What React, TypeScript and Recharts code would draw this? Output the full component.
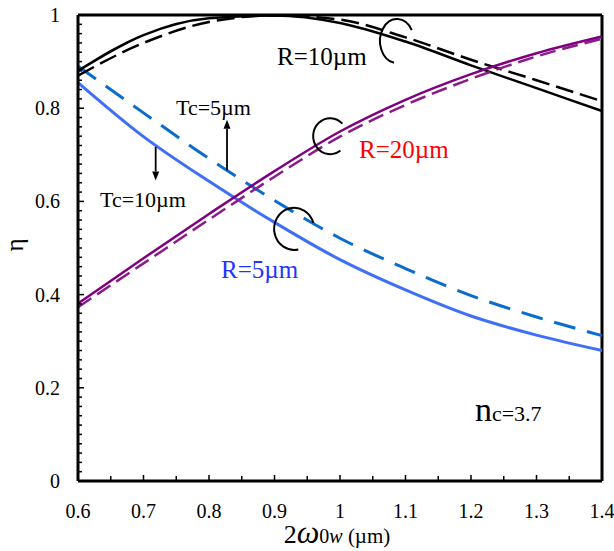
import { LineChart, Line, XAxis, YAxis, ReferenceLine, ReferenceDot, Label } from 'recharts'

// beam width 2ω0w (µm)
const WIDTHS = [0.6, 0.7, 0.8, 0.9, 1.0, 1.1, 1.2, 1.3, 1.4]

// efficiency η, solid = Tc 10µm, dashed = Tc 5µm
const R10_TC10 = [0.880, 0.957, 0.993, 0.999, 0.983, 0.943, 0.892, 0.843, 0.794]
const R10_TC5  = [0.870, 0.940, 0.985, 0.999, 0.990, 0.952, 0.904, 0.860, 0.815]
const R5_TC10  = [0.855, 0.739, 0.643, 0.555, 0.475, 0.410, 0.354, 0.313, 0.280]
const R5_TC5   = [0.890, 0.790, 0.692, 0.602, 0.521, 0.456, 0.398, 0.352, 0.312]
const R20_TC10 = [0.381, 0.478, 0.573, 0.665, 0.750, 0.818, 0.873, 0.918, 0.954]
const R20_TC5  = [0.373, 0.467, 0.561, 0.653, 0.739, 0.807, 0.863, 0.911, 0.949]

const X_MAJOR = [0.6, 0.7, 0.8, 0.9, 1.0, 1.1, 1.2, 1.3, 1.4]
const X_LABELS = ['0.6', '0.7', '0.8', '0.9', '1', '1.1', '1.2', '1.3', '1.4']
const Y_MAJOR = [0, 0.2, 0.4, 0.6, 0.8, 1]
const Y_LABELS = ['0', '0.2', '0.4', '0.6', '0.8', '1']

const data = WIDTHS.map((w, i) => ({
  w,
  r10a: R10_TC10[i], r10b: R10_TC5[i],
  r5a: R5_TC10[i], r5b: R5_TC5[i],
  r20a: R20_TC10[i], r20b: R20_TC5[i],
}))

// minor ticks: every 0.05 on x, every 0.02 on y
const X_TICKS = X_MAJOR.flatMap((v, i) => (i < X_MAJOR.length - 1 ? [v, (v + X_MAJOR[i + 1]) / 2] : [v]))
const Y_TICKS = Y_MAJOR.flatMap((v, i) =>
  i < Y_MAJOR.length - 1 ? Array.from({ length: 10 }, (_, k) => v + ((Y_MAJOR[i + 1] - v) * k) / 10) : [v])

const FONT = '"Liberation Serif", "Times New Roman", serif'
const X_GAP = 22
const Y_GAP = 18

const near = (a: number, b: number) => Math.abs(a - b) < 1e-6

function XTick(props: any) {
  const { x, y, payload } = props
  const i = X_MAJOR.findIndex(m => near(m, payload.value))
  const ay = y - X_GAP
  return (
    <g>
      <line x1={x} x2={x} y1={ay} y2={ay - (i >= 0 ? 6 : 5)} stroke="#000" strokeWidth={1.5} />
      {i >= 0 && (
        <text x={x} y={ay + 37} textAnchor="middle" fontSize={20} fontFamily={FONT} fill="#000">
          {X_LABELS[i]}
        </text>
      )}
    </g>
  )
}

function YTick(props: any) {
  const { x, y, payload } = props
  const i = Y_MAJOR.findIndex(m => near(m, payload.value))
  const ax = x + Y_GAP
  return (
    <g>
      <line x1={ax} x2={ax + (i >= 0 ? 6 : 4)} y1={y} y2={y} stroke="#000" strokeWidth={1.5} />
      {i >= 0 && (
        <text x={x} y={y} dy="0.35em" textAnchor="end" fontSize={20} fontFamily={FONT} fill="#000">
          {Y_LABELS[i]}
        </text>
      )}
    </g>
  )
}

function XTitle(props: any) {
  const { x, y, width } = props.viewBox
  return (
    <text x={x + width / 2 - 3} y={y + 62} textAnchor="middle" fontFamily={FONT} fill="#000">
      <tspan fontSize={26}>2</tspan>
      <tspan fontSize={32} fontStyle="italic">ω</tspan>
      <tspan fontSize={20}>0</tspan>
      <tspan fontSize={20} fontStyle="italic">w</tspan>
      <tspan fontSize={21}>{'\u00a0(µm)'}</tspan>
    </text>
  )
}

function YTitle(props: any) {
  const { y, height } = props.viewBox
  const cy = y + height / 2 - 3
  return (
    <text transform={`translate(23, ${cy}) rotate(-90)`} textAnchor="middle" fontSize={25} fontFamily={FONT} fill="#000">
      η
    </text>
  )
}

// "C" shaped bracket marking a pair of curves
const arc = (rx: number, ry: number, a0: number, a1: number) => (p: any) => {
  const r0 = (a0 * Math.PI) / 180
  const r1 = (a1 * Math.PI) / 180
  const sx = p.cx + rx * Math.cos(r0)
  const sy = p.cy + ry * Math.sin(r0)
  const ex = p.cx + rx * Math.cos(r1)
  const ey = p.cy + ry * Math.sin(r1)
  return <path d={`M${sx},${sy} A${rx},${ry} 0 1 0 ${ex},${ey}`} fill="none" stroke="#000" strokeWidth={2} />
}

const label = (content: any, size: number, color = '#000') => (p: any) => (
  <text x={p.cx} y={p.cy} fontSize={size} fontFamily={FONT} fill={color}>{content}</text>
)

const Arrow = (p: any) => {
  const { x1, y1, x2, y2 } = p
  const a = Math.atan2(y2 - y1, x2 - x1)
  const L = 9
  const W = 3.5
  const bx = x2 - L * Math.cos(a)
  const by = y2 - L * Math.sin(a)
  const nx = -Math.sin(a) * W
  const ny = Math.cos(a) * W
  return (
    <g>
      <line x1={x1} y1={y1} x2={bx} y2={by} stroke="#000" strokeWidth={1.8} />
      <path d={`M${x2},${y2} L${bx + nx},${by + ny} L${bx - nx},${by - ny} Z`} fill="#000" />
    </g>
  )
}

export default function App() {
  return (
    <div style={{ position: 'fixed', left: 0, top: 0, width: 614, height: 551, background: '#fff' }}>
      <LineChart width={614} height={551} data={data} margin={{ top: 15, right: 12, left: 18, bottom: 10 }}>
        <XAxis
          dataKey="w"
          type="number"
          domain={[0.6, 1.4]}
          ticks={X_TICKS}
          interval={0}
          tickSize={0}
          tickMargin={X_GAP}
          tickLine={false}
          tick={XTick}
          axisLine={{ stroke: '#000', strokeWidth: 3 }}
          height={60}
        >
          <Label content={XTitle} />
        </XAxis>
        <YAxis
          type="number"
          domain={[0, 1]}
          ticks={Y_TICKS}
          interval={0}
          tickSize={0}
          tickMargin={Y_GAP}
          tickLine={false}
          tick={YTick}
          axisLine={{ stroke: '#000', strokeWidth: 3 }}
          width={60}
        >
          <Label content={YTitle} />
        </YAxis>

        <ReferenceLine y={1} stroke="#000" strokeWidth={3} />
        <ReferenceLine x={1.4} stroke="#000" strokeWidth={3} />

        <Line type="monotone" dataKey="r5b" stroke="#0a6dcc" strokeWidth={3} strokeDasharray="22 12" dot={false} isAnimationActive={false} />
        <Line type="monotone" dataKey="r5a" stroke="#3f6ff5" strokeWidth={3} dot={false} isAnimationActive={false} />
        <Line type="monotone" dataKey="r10b" stroke="#000" strokeWidth={2.5} strokeDasharray="18 7" dot={false} isAnimationActive={false} />
        <Line type="monotone" dataKey="r10a" stroke="#000" strokeWidth={2.5} dot={false} isAnimationActive={false} />
        <Line type="monotone" dataKey="r20b" stroke="#8b1a8b" strokeWidth={2.5} strokeDasharray="16 7" dot={false} isAnimationActive={false} />
        <Line type="monotone" dataKey="r20a" stroke="#800080" strokeWidth={2.5} dot={false} isAnimationActive={false} />

        <ReferenceDot x={1.087} y={0.944} r={0} shape={arc(17, 22, -30, 100)} />
        <ReferenceDot x={0.985} y={0.740} r={0} shape={arc(17, 18, -44, 53)} />
        <ReferenceDot x={0.930} y={0.541} r={0} shape={arc(20, 21, -16, 78)} />

        <ReferenceLine segment={[{ x: 0.8275, y: 0.667 }, { x: 0.8275, y: 0.775 }]} shape={Arrow} />
        <ReferenceLine segment={[{ x: 0.7186, y: 0.717 }, { x: 0.7186, y: 0.645 }]} shape={Arrow} />

        <ReferenceDot x={0.7496} y={0.785} r={0} shape={label('Tc=5µm', 22)} />
        <ReferenceDot x={0.6336} y={0.588} r={0} shape={label('Tc=10µm', 22)} />
        <ReferenceDot x={0.9038} y={0.893} r={0} shape={label('R=10µm', 25)} />
        <ReferenceDot x={1.029} y={0.693} r={0} shape={label('R=20µm', 25, '#ff0000')} />
        <ReferenceDot x={0.8183} y={0.4356} r={0} shape={label('R=5µm', 25, '#2233ff')} />
        <ReferenceDot
          x={1.206}
          y={0.1288}
          r={0}
          shape={label([<tspan key="n" fontSize={34}>n</tspan>, <tspan key="c" fontSize={22}>c=3.7</tspan>], 22)}
        />
      </LineChart>
    </div>
  )
}
